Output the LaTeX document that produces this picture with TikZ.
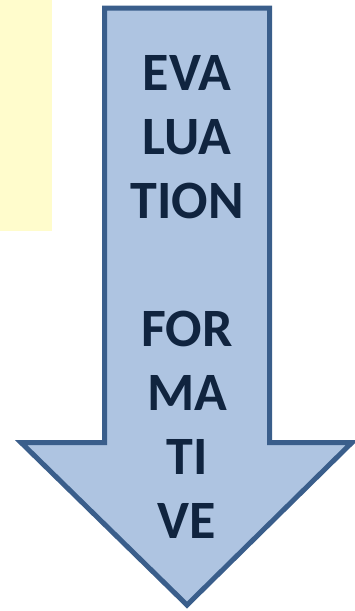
\documentclass[tikz,border=0pt]{standalone}
\usepackage{fontspec}
\setmainfont{Carlito}
\begin{document}
\begin{tikzpicture}[x=1pt,y=-1pt]
\tikzset{
    note/.style={fill=yellow!20!white, draw=none},
    arrowbody/.style={line width = 5pt, draw=blueline, fill=bluefill},
    word/.style={anchor=base, inner sep=0pt, text=navy,
        font=\fontsize{54}{64}\selectfont\bfseries}}
\definecolor{bluefill}{HTML}{AEC4E1}
\definecolor{blueline}{HTML}{3A5E8B}
\definecolor{navy}{HTML}{10243F}
\def\lx{104.5}
\def\rx{269.5}
\def\top{8}
\def\sh{442.5}
\def\hl{21}
\def\hr{352}
\def\tip{605}
\def\mid{187}

\useasboundingbox (0,0) rectangle (354,611);

\fill[note] (0,0) rectangle (52,231);

\draw[arrowbody] (\lx,\top)--(\rx,\top)--(\rx,\sh)--(\hr,\sh)--(\mid,\tip)
    --(\hl,\sh)--(\lx,\sh)--cycle;

\foreach \txt/\row in {EVA/0,LUA/1,TION/2,FOR/4,MA/5,TI/6,VE/7}
    \node[word] (w\row) at (\mid,90+64*\row) {\txt};

\end{tikzpicture}
\end{document}
